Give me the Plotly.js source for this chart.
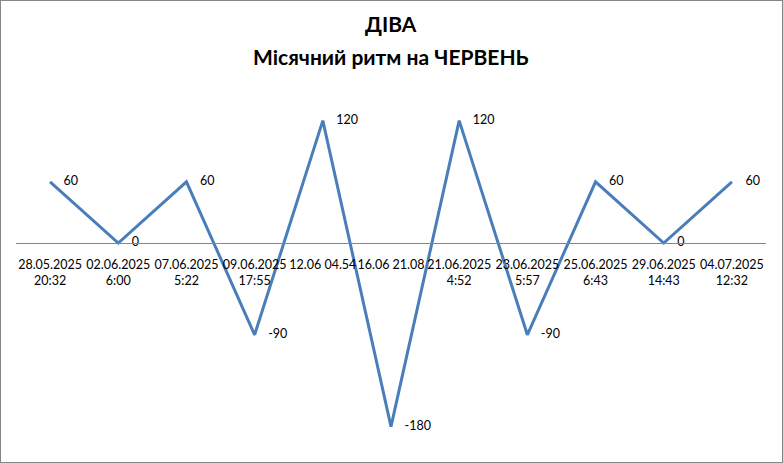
<!DOCTYPE html>
<html>
<head>
<meta charset="utf-8">
<script src="https://cdn.plot.ly/plotly-3.0.1.min.js"></script>
<style>
  html, body { margin: 0; padding: 0; background: #fff; }
  #chart { width: 781px; height: 461px; border: 1px solid #868686; }
</style>
</head>
<body>
<div id="chart"></div>
<script>
const categories = [
  "28.05.2025<br>20:32",
  "02.06.2025<br>6:00",
  "07.06.2025<br>5:22",
  "09.06.2025<br>17:55",
  "12.06 04.54",
  "16.06 21.08",
  "21.06.2025<br>4:52",
  "23.06.2025<br>5:57",
  "25.06.2025<br>6:43",
  "29.06.2025<br>14:43",
  "04.07.2025<br>12:32"
];
const values = [60, 0, 60, -90, 120, -180, 120, -90, 60, 0, 60];
const valueLabels = values.map(String);

const titleLine1 = "ДІВА";
const titleLine2 = "Місячний ритм на ЧЕРВЕНЬ";

const yMin = -200, yMax = 150;
const FONT = "Lato, 'Open Sans', sans-serif";

const trace = {
  x: categories,
  y: values,
  type: "scatter",
  mode: "lines+markers+text",
  text: valueLabels,
  textposition: "middle right",
  textfont: { family: FONT, size: 12.5, color: "#000" },
  line: { color: "#4a7ebb", width: 3 },
  marker: { size: 20, color: "rgba(0,0,0,0)" },
  cliponaxis: false,
  hoverinfo: "skip"
};

const plotH = 461 - 89 - 15;

const layout = {
  width: 781,
  height: 461,
  margin: { l: 15, r: 16, t: 89, b: 15 },
  paper_bgcolor: "#fff",
  plot_bgcolor: "#fff",
  showlegend: false,
  font: { family: FONT, size: 12.5, color: "#000" },
  annotations: [
    {
      text: titleLine1,
      xref: "paper", yref: "paper",
      x: 0.5, y: 1 + 67 / plotH, yanchor: "middle", xanchor: "center",
      showarrow: false,
      font: { family: FONT, size: 21, weight: "bold", color: "#000" }
    },
    {
      text: titleLine2,
      xref: "paper", yref: "paper",
      x: 0.5, y: 1 + 33 / plotH, yanchor: "middle", xanchor: "center",
      showarrow: false,
      font: { family: FONT, size: 21, weight: "bold", color: "#000" }
    }
  ],
  xaxis: {
    type: "category",
    range: [-0.5, categories.length - 0.5],
    anchor: "free",
    position: (0 - yMin) / (yMax - yMin),
    showline: true,
    linecolor: "#868686",
    linewidth: 1,
    showgrid: false,
    zeroline: false,
    ticks: "",
    tickangle: 0,
    ticklabelstandoff: 10,
    tickfont: { family: FONT, size: 12.5, color: "#000" },
    fixedrange: true
  },
  yaxis: {
    range: [yMin, yMax],
    visible: false,
    showgrid: false,
    zeroline: false,
    fixedrange: true
  }
};

Plotly.newPlot("chart", [trace], layout, { displayModeBar: false, staticPlot: true });
</script>
</body>
</html>
